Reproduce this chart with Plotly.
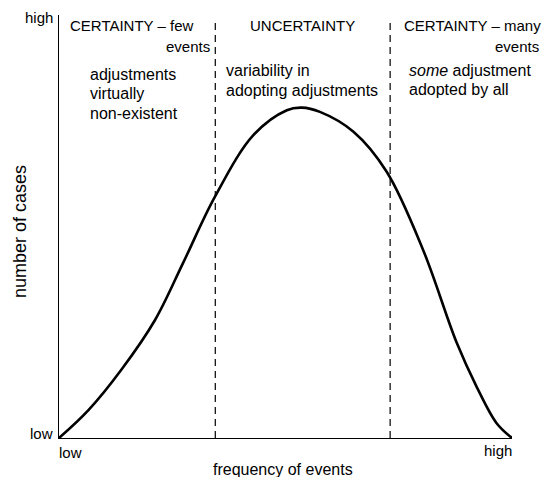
import plotly.graph_objects as go

# ---- data ----
freq = [0, 6.5, 13.8, 21.2, 27.4, 34.4, 42.9, 50.3, 53.6, 57.6, 65.0, 72.3,
        80.4, 87.8, 92.2, 96.6, 100]
cases = [0, 6.6, 16.2, 27.9, 41.4, 57.0, 71.6, 77.5, 78.1, 77.1, 72.4, 63.0,
         44.4, 22.5, 12.1, 3.5, 0]
boundaries = [34.5, 73.1]
axis_ticks = ["low", "high"]

W, H = 546, 477
ML, MR, MT, MB = 59, 34, 15, 39
PW, PH = W - ML - MR, H - MT - MB

FONT = "Liberation Sans, Arial, sans-serif"


def P(px, py):
    return (px - ML) / PW, (H - MB - py) / PH


fig = go.Figure()
fig.add_trace(go.Scatter(x=freq, y=cases, mode="lines",
                         line=dict(color="black", width=2.6, shape="spline", smoothing=1.0),
                         hoverinfo="skip", showlegend=False))

for b in boundaries:
    fig.add_shape(type="line", xref="x", yref="y", x0=b, x1=b, y0=0, y1=98.8,
                  line=dict(color="black", width=1.2, dash="7px,5px"))

annos = []


def txt(text, px, py, anchor="left", size=16, angle=0):
    x, y = P(px, py)
    annos.append(dict(text=text, x=x, y=y, xref="paper", yref="paper",
                      xanchor=anchor, yanchor="middle", showarrow=False,
                      textangle=angle, font=dict(family=FONT, size=size, color="black")))


# axis end labels
txt(axis_ticks[1], 55, 17, "right", 15)
txt(axis_ticks[0], 55, 433, "right", 15)
txt(axis_ticks[0], 57, 452, "left", 15)
txt(axis_ticks[1], 514, 450, "right", 15)
txt("frequency of events", 283, 469, "center", 16)
txt("number of cases", 20, 232, "center", 18, -90)

# region headers
txt("CERTAINTY \u2013 few", 68, 25, "left", 15)
txt("events", 212, 46, "right", 15)
txt("UNCERTAINTY", 248, 25, "left", 15)
txt("CERTAINTY \u2013 many", 402, 25, "left", 15)
txt("events", 541, 46, "right", 15)

# region descriptions
txt("adjustments", 88, 74, "left", 16)
txt("virtually", 88, 93, "left", 16)
txt("non-existent", 88, 113, "left", 16)
txt("variability in", 224, 71, "left", 16)
txt("adopting adjustments", 224, 90, "left", 16)
txt("<i>some</i> adjustment", 407, 71, "left", 16)
txt("adopted by all", 407, 89, "left", 16)

fig.update_layout(
    width=W, height=H,
    margin=dict(l=ML, r=MR, t=MT, b=MB, pad=0),
    paper_bgcolor="white", plot_bgcolor="white",
    annotations=annos,
    xaxis=dict(range=[0, 100], showgrid=False, zeroline=False, showticklabels=False,
               ticks="", showline=True, linecolor="black", linewidth=1),
    yaxis=dict(range=[0, 100], showgrid=False, zeroline=False, showticklabels=False,
               ticks="", showline=True, linecolor="black", linewidth=1),
)

fig.write_html("out.html", config={"displayModeBar": False},
               post_script="document.body.style.margin='0';document.body.style.overflow='hidden';")
